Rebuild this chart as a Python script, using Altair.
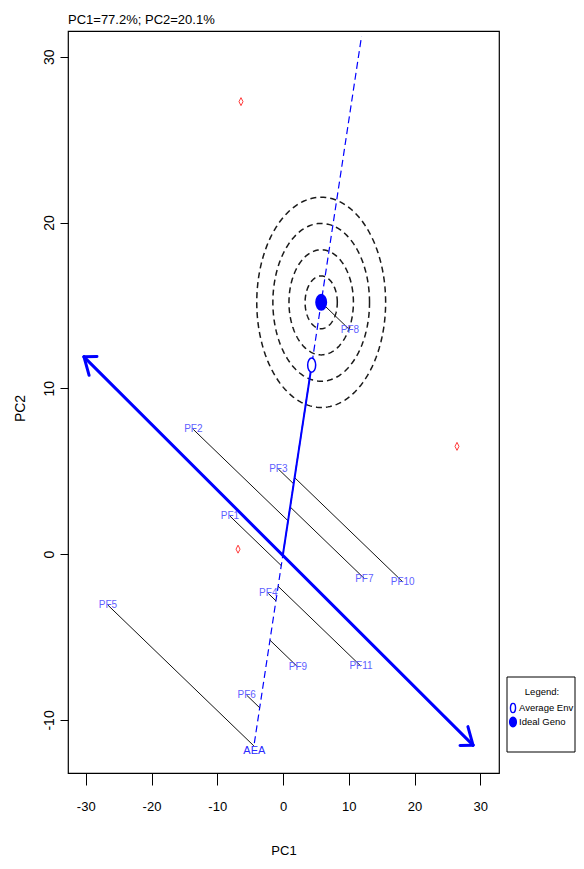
import altair as alt
import numpy as np
import pandas as pd

# ---------------- values ----------------
title_text = "PC1=77.2%; PC2=20.1%"
genotypes = ["PF1", "PF2", "PF3", "PF4", "PF5", "PF6", "PF7", "PF8", "PF9", "PF10", "PF11"]
geno_pc1 = [-8.06, -13.64, -0.71, -2.24, -26.62, -5.52, 12.37, 10.19, 2.28, 18.20, 11.86]
geno_pc2 = [2.29, 7.52, 5.13, -2.37, -3.08, -8.51, -1.47, 13.51, -6.82, -1.67, -6.76]
env_pc1 = [-6.39, 26.46, -6.84]
env_pc2 = [27.29, 6.50, 0.30]
avg_env_pc1 = [4.36]
avg_env_pc2 = [11.40]
aea_extent = [-1.0, 2.74]          # AEA line extent, in multiples of the average-env vector
atc_pc1 = [-30.27, 28.90]          # ATC double arrow end points
atc_pc2 = [11.90, -11.52]
ring_rx = [2.45, 4.90, 7.35, 9.80]  # concentric rings, PC1 half-widths
ring_ry = [1.59, 3.17, 4.76, 6.34]  # concentric rings, PC2 half-heights
x_ticks = [-30, -20, -10, 0, 10, 20, 30]
y_ticks = [-10, 0, 10, 20, 30]
legend_title = "Legend:"
legend_labels = ["Average Env", "Ideal Geno"]
aea_label = "AEA"

# ---------------- layout / style ----------------
W, H = 431, 742
XDOM = [-32.7, 32.85]
YDOM = [-13.2, 31.55]
FONT = "Liberation Sans"
BLUE = "#0000ff"
LABEL_BLUE = "#5f5fff"

# ---------------- derived geometry ----------------
avg = np.array([avg_env_pc1[0], avg_env_pc2[0]])
u = avg / np.linalg.norm(avg)
G = np.column_stack([geno_pc1, geno_pc2])
proj = G @ u
feet = np.outer(proj, u)
ideal = proj.max() * u

geno_df = pd.DataFrame({"name": genotypes, "x": geno_pc1, "y": geno_pc2,
                        "x2": feet[:, 0], "y2": feet[:, 1]})
env_df = pd.DataFrame({"x": env_pc1, "y": env_pc2})
avg_df = pd.DataFrame({"x": avg_env_pc1, "y": avg_env_pc2, "x2": [0.0], "y2": [0.0]})
ideal_df = pd.DataFrame({"x": [ideal[0]], "y": [ideal[1]]})
aea_df = pd.DataFrame({"x": [t * avg[0] for t in aea_extent],
                       "y": [t * avg[1] for t in aea_extent], "i": [0, 1]})
aea_lab_df = aea_df.iloc[[0]].assign(label=aea_label)
atc_df = pd.DataFrame({"x": [atc_pc1[0]], "y": [atc_pc2[0]], "x2": [atc_pc1[1]], "y2": [atc_pc2[1]]})

ang = np.linspace(0, 2 * np.pi, 181)
ring_rows = []
for k, (rx, ry) in enumerate(zip(ring_rx, ring_ry)):
    for i, a in enumerate(ang):
        ring_rows.append({"ring": k, "i": i, "x": ideal[0] + rx * np.cos(a), "y": ideal[1] + ry * np.sin(a)})
ring_df = pd.DataFrame(ring_rows)

# arrow heads (open V) at both ends of the ATC arrow
sx = W / (XDOM[1] - XDOM[0])
sy = H / (YDOM[1] - YDOM[0])
K, L, A = 1.55, 13.0, np.radians(34)


def wings(tip, tail):
    dx = (tail[0] - tip[0]) * sx
    dy = -(tail[1] - tip[1]) * sy / K
    base = np.arctan2(dy, dx)
    out = []
    for s in (1, -1):
        a = base + s * A
        wx, wy = L * np.cos(a), L * np.sin(a) * K
        out.append({"x": tip[0], "y": tip[1], "x2": tip[0] + wx / sx, "y2": tip[1] - wy / sy})
    return out


p0 = (atc_pc1[0], atc_pc2[0])
p1 = (atc_pc1[1], atc_pc2[1])
head_df = pd.DataFrame(wings(p0, p1) + wings(p1, p0))

# ---------------- encodings ----------------
xs = alt.Scale(domain=XDOM, nice=False, zero=False)
ys = alt.Scale(domain=YDOM, nice=False, zero=False)
xaxis = alt.Axis(values=x_ticks, title="PC1", tickSize=12, labelPadding=15,
                 labelExpr="'' + datum.value",
                 labelFont=FONT, labelFontSize=13, labelFlush=False, labelOverlap=False,
                 titleFont=FONT, titleFontSize=13, titleFontWeight="normal",
                 titleX=W / 2, titleY=77, titleBaseline="middle", titleAlign="center")
yaxis = alt.Axis(values=y_ticks, title="PC2", tickSize=8, labelAngle=270, labelAlign="center",
                 labelExpr="'' + datum.value",
                 labelBaseline="bottom", labelPadding=4, labelFont=FONT, labelFontSize=14,
                 labelFlush=False, labelOverlap=False,
                 titleFont=FONT, titleFontSize=14, titleFontWeight="normal", titleAngle=270,
                 titleX=-48, titleY=377, titleAlign="center", titleBaseline="middle")
X = alt.X("x:Q", scale=xs, axis=xaxis)
Y = alt.Y("y:Q", scale=ys, axis=yaxis)

rings = alt.Chart(ring_df).mark_line(color="#1a1a1a", strokeWidth=1.5, strokeDash=[6, 4]).encode(
    x=X, y=Y, detail="ring:N", order="i:Q")
aea = alt.Chart(aea_df).mark_line(color=BLUE, strokeWidth=1.2, strokeDash=[7, 4]).encode(
    x=X, y=Y, order="i:Q")
segs = alt.Chart(geno_df).mark_rule(color="#111111", strokeWidth=1).encode(x=X, y=Y, x2="x2:Q", y2="y2:Q")
atc = alt.Chart(atc_df).mark_rule(color=BLUE, strokeWidth=3, strokeCap="round").encode(
    x=X, y=Y, x2="x2:Q", y2="y2:Q")
heads = alt.Chart(head_df).mark_rule(color=BLUE, strokeWidth=3, strokeCap="round").encode(
    x=X, y=Y, x2="x2:Q", y2="y2:Q")
avg_line = alt.Chart(avg_df).mark_rule(color=BLUE, strokeWidth=2).encode(x=X, y=Y, x2="x2:Q", y2="y2:Q")
envs = alt.Chart(env_df).mark_point(shape="M0,-2L1,0L0,2L-1,0Z", size=16, color="#ff3b3b",
                                    strokeWidth=1, filled=False, opacity=1).encode(x=X, y=Y)
ELL_OPEN = "M0,-1.8A1,1.8 0 1,1 0,1.8A1,1.8 0 1,1 0,-1.8Z"
ELL_FILL = "M0,-1.5A1,1.5 0 1,1 0,1.5A1,1.5 0 1,1 0,-1.5Z"
avg_pt = alt.Chart(avg_df).mark_point(shape=ELL_OPEN, size=64, stroke=BLUE, fill="white",
                                      fillOpacity=1, strokeWidth=1.5, opacity=1).encode(x=X, y=Y)
ideal_pt = alt.Chart(ideal_df).mark_point(shape=ELL_FILL, size=100, fill=BLUE, stroke=BLUE,
                                          filled=True, opacity=1).encode(x=X, y=Y)
labels = alt.Chart(geno_df).mark_text(font=FONT, fontSize=10, color=LABEL_BLUE,
                                      align="center", baseline="middle").encode(x=X, y=Y, text="name:N")
aea_txt = alt.Chart(aea_lab_df).mark_text(font=FONT, fontSize=11, color="#2a2aff", align="center",
                                          baseline="middle", dy=8).encode(x=X, y=Y, text="label:N")

# ---------------- manual legend (outside the plot, right side) ----------------
one = pd.DataFrame({"k": [0]})
leg_box = alt.Chart(one).mark_rect(fill="white", stroke="black", strokeWidth=1).encode(
    x=alt.value(439), x2=alt.value(507), y=alt.value(646), y2=alt.value(721))
leg_title = alt.Chart(one).mark_text(font=FONT, fontSize=9.5, color="black", align="center",
                                     baseline="middle").encode(x=alt.value(474), y=alt.value(661),
                                                               text=alt.value(legend_title))
leg_t1 = alt.Chart(one).mark_text(font=FONT, fontSize=9.5, color="black", align="left",
                                  baseline="middle").encode(x=alt.value(451), y=alt.value(677),
                                                            text=alt.value(legend_labels[0]))
leg_t2 = alt.Chart(one).mark_text(font=FONT, fontSize=9.5, color="black", align="left",
                                  baseline="middle").encode(x=alt.value(451), y=alt.value(691),
                                                            text=alt.value(legend_labels[1]))
leg_s1 = alt.Chart(one).mark_point(shape=ELL_OPEN, size=26, stroke=BLUE, fill="white", fillOpacity=1,
                                   strokeWidth=1.4, opacity=1).encode(x=alt.value(445), y=alt.value(677))
leg_s2 = alt.Chart(one).mark_point(shape=ELL_FILL, size=38, fill=BLUE, stroke=BLUE, filled=True,
                                   opacity=1).encode(x=alt.value(445), y=alt.value(691))

chart = alt.layer(
    rings, aea, segs, atc, heads, avg_line, envs, avg_pt, ideal_pt, labels, aea_txt,
    leg_box, leg_title, leg_t1, leg_t2, leg_s1, leg_s2,
).properties(
    width=W, height=H,
    title=alt.TitleParams(text=title_text, anchor="start", frame="group", offset=4, font=FONT,
                          fontSize=13, fontWeight="normal", color="black"),
    autosize=alt.AutoSizeParams(type="none"),
    padding={"left": 60, "top": 23, "right": 77, "bottom": 83},
).configure_view(
    stroke="black", strokeWidth=1.2
).configure_axis(
    grid=False, domain=False, tickColor="black", labelColor="black", titleColor="black", tickWidth=1
)

chart.save("out.html", embed_options={"renderer": "svg", "actions": False})
